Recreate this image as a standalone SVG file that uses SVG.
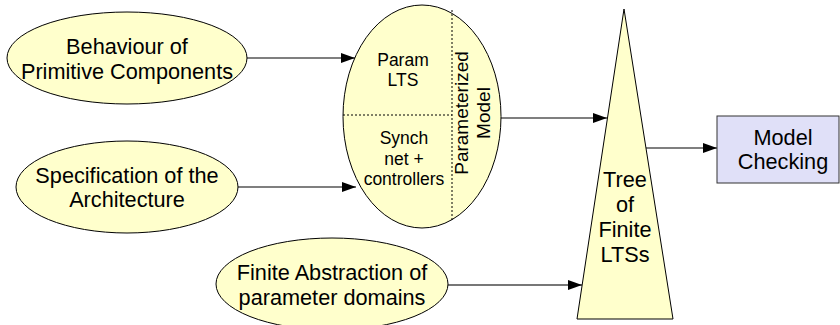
<svg xmlns="http://www.w3.org/2000/svg" width="840" height="325" viewBox="0 0 840 325">
<style>
.n{fill:#FFFFCC;stroke:#000;stroke-width:1}
.b{fill:#E0E0F8;stroke:#333;stroke-width:1}
.t{font-family:"Liberation Sans",Arial,sans-serif;font-size:21.7px;fill:#000;text-anchor:middle}
.s{font-family:"Liberation Sans",Arial,sans-serif;font-size:17.5px;fill:#000;text-anchor:middle}
.r{font-family:"Liberation Sans",Arial,sans-serif;font-size:19px;fill:#000;text-anchor:middle}
.d{stroke:#000;stroke-width:1;stroke-dasharray:2,2;fill:none}
.c{stroke:#555;stroke-width:1.5;fill:none}
</style>
<defs>
<marker id="ah" markerWidth="14" markerHeight="10" refX="14" refY="5" orient="auto" markerUnits="userSpaceOnUse">
<path d="M0,0 L14,5 L0,10 Z" fill="#000"/>
</marker>
</defs>
<g id="connectors">
<line class="c" x1="247" y1="58" x2="355" y2="58" marker-end="url(#ah)"/>
<line class="c" x1="238" y1="187" x2="356" y2="187" marker-end="url(#ah)"/>
<line class="c" x1="501" y1="118" x2="607" y2="118" marker-end="url(#ah)"/>
<line class="c" x1="448" y1="285" x2="582" y2="285" marker-end="url(#ah)" style="stroke:#777;stroke-width:2"/>
<line class="c" x1="646" y1="148" x2="717" y2="148" marker-end="url(#ah)"/>
</g>
<g id="behaviour">
<ellipse class="n" cx="127" cy="58" rx="120" ry="46"/>
<text class="t" x="127" y="54">Behaviour of</text>
<text class="t" x="127" y="79">Primitive Components</text>
</g>
<g id="specification">
<ellipse class="n" cx="127" cy="187" rx="111" ry="46"/>
<text class="t" x="127" y="183">Specification of the</text>
<text class="t" x="127" y="207">Architecture</text>
</g>
<g id="abstraction">
<ellipse class="n" cx="332" cy="284" rx="116" ry="46"/>
<text class="t" x="332" y="280">Finite Abstraction of</text>
<text class="t" x="332" y="305">parameter domains</text>
</g>
<g id="parameterized-model">
<ellipse class="n" cx="422" cy="116.5" rx="79" ry="111.5"/>
<line class="d" x1="343" y1="115" x2="452" y2="115"/>
<line class="d" x1="452" y1="10" x2="452" y2="222"/>
<text class="s" x="403" y="66">Param</text>
<text class="s" x="403" y="86">LTS</text>
<text class="s" x="404" y="144">Synch</text>
<text class="s" x="404" y="165">net +</text>
<text class="s" x="404" y="185">controllers</text>
<text class="r" transform="translate(468,113) rotate(-90)">Parameterized</text>
<text class="r" transform="translate(490,113) rotate(-90)">Model</text>
</g>
<g id="tree">
<polygon class="n" points="624,9 577,319 673,319"/>
<text class="t" x="625" y="187">Tree</text>
<text class="t" x="625" y="212">of</text>
<text class="t" x="625" y="237">Finite</text>
<text class="t" x="625" y="262">LTSs</text>
</g>
<g id="model-checking">
<rect class="b" x="717" y="116" width="122" height="67"/>
<text class="t" x="783" y="145">Model</text>
<text class="t" x="783" y="169">Checking</text>
</g>
</svg>
